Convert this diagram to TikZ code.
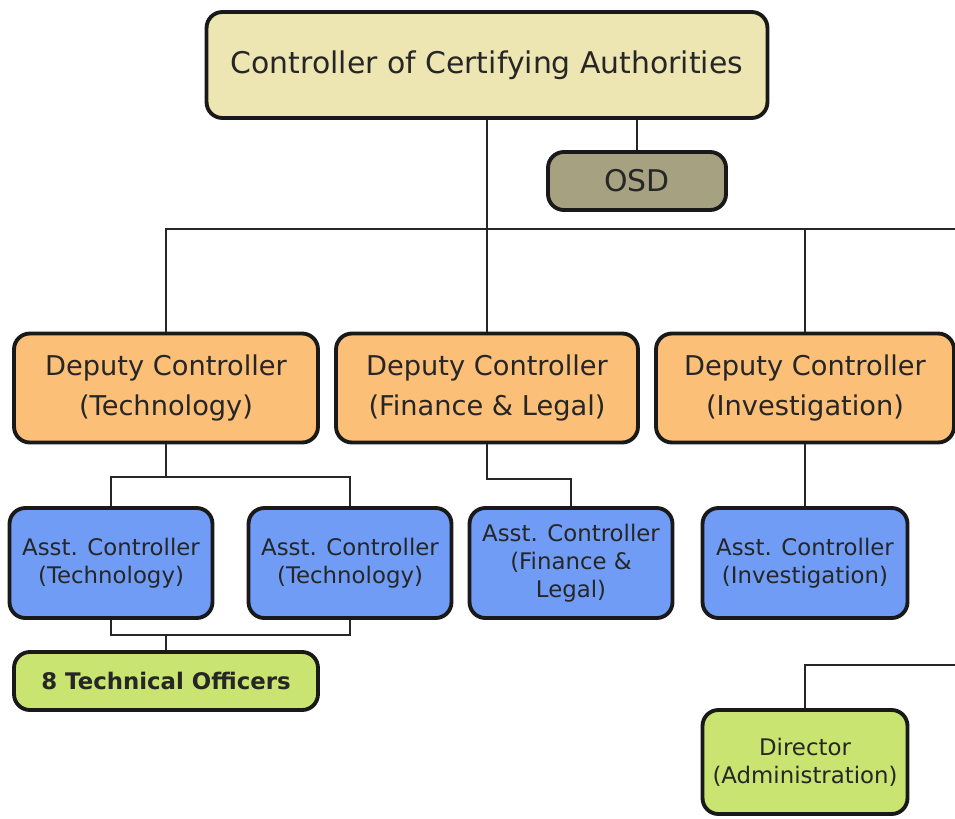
\documentclass[tikz,border=0pt]{standalone}
\usepackage{fontspec}
\setmainfont{DejaVu Sans}
\usetikzlibrary{positioning}

\definecolor{ccafill}{RGB}{237,229,178}
\definecolor{osdfill}{RGB}{166,161,128}
\definecolor{depfill}{RGB}{251,191,119}
\definecolor{asstfill}{RGB}{112,156,245}
\definecolor{officefill}{RGB}{201,228,112}

\tikzset{
  box/.style={draw=black!90, line width=2.2pt, rounded corners=9pt, align=center, inner sep=1pt, text=black!85},
  toptext/.style={font=\fontsize{17}{22.5}\selectfont},
  bigtext/.style={font=\fontsize{15.5}{22.7}\selectfont},
  smalltext/.style={font=\fontsize{13}{16}\selectfont},
  link/.style={draw=black!85, line width=1.1pt}
}

\begin{document}
\begin{tikzpicture}[x=0.02cm, y=-0.02cm]
    \useasboundingbox (0,0) rectangle (955,818);

    % top of the chart
    \node[box, toptext, fill=ccafill, minimum width=11.22cm, minimum height=2.12cm] (cca) at (487,65) {Controller of Certifying Authorities};
    \node[box, toptext, fill=osdfill, minimum width=3.56cm, minimum height=1.16cm] (osd) at (637,181) {OSD};

    % deputy controllers
    \node[box, bigtext, fill=depfill, minimum width=6.08cm, minimum height=2.18cm] (deptech) at (166,388) {Deputy Controller\\(Technology)};
    \node[box, bigtext, fill=depfill, minimum width=6.04cm, minimum height=2.18cm] (depfin) at (487,388) {Deputy Controller\\(Finance \& Legal)};
    \node[box, bigtext, fill=depfill, minimum width=5.96cm, minimum height=2.18cm] (depinv) at (805,388) {Deputy Controller\\(Investigation)};

    % assistant controllers
    \node[box, smalltext, fill=asstfill, minimum width=4.06cm, minimum height=2.2cm] (assttech) at (111,563) {Asst. Controller\\(Technology)};
    \node[box, smalltext, fill=asstfill, minimum width=4.06cm, minimum height=2.2cm] (assttechb) at (350,563) {Asst. Controller\\(Technology)};
    \node[box, smalltext, fill=asstfill, minimum width=4.06cm, minimum height=2.2cm] (asstfin) at (571,563) {Asst. Controller\\(Finance \&\\Legal)};
    \node[box, smalltext, fill=asstfill, minimum width=4.1cm, minimum height=2.2cm] (asstinv) at (805,563) {Asst. Controller\\(Investigation)};

    % bottom row
    \node[box, font=\fontsize{13}{16}\selectfont\bfseries, fill=officefill, minimum width=6.08cm, minimum height=1.16cm] (officers) at (166,681) {8 Technical Officers};
    \node[box, smalltext, fill=officefill, minimum width=4.1cm, minimum height=2.08cm] (director) at (805,762) {Director\\(Administration)};

    \coordinate (busend) at (955,229);
    \coordinate (techsplit) at (166,477);
    \coordinate (officesplit) at (166,635);
    \coordinate (dirend) at (955,665);

    % connectors
    \draw[link] (cca.south) -- (depfin.north);
    \draw[link] (osd.north) -- (osd.north |- cca.south);
    \draw[link] (deptech.north) |- (busend);
    \draw[link] (depinv.north) -- (depinv.north |- busend);
    \draw[link] (deptech.south) -- (techsplit);
    \draw[link] (assttech.north) |- (techsplit) -| (assttechb.north);
    \draw[link] (assttech.south) |- (officesplit) -| (assttechb.south);
    \draw[link] (officesplit) -- (officers.north);
    \draw[link] (depfin.south) -- ++(0,35) -| (asstfin.north);
    \draw[link] (depinv.south) -- (asstinv.north);
    \draw[link] (dirend) -| (director.north);

\end{tikzpicture}
\end{document}
